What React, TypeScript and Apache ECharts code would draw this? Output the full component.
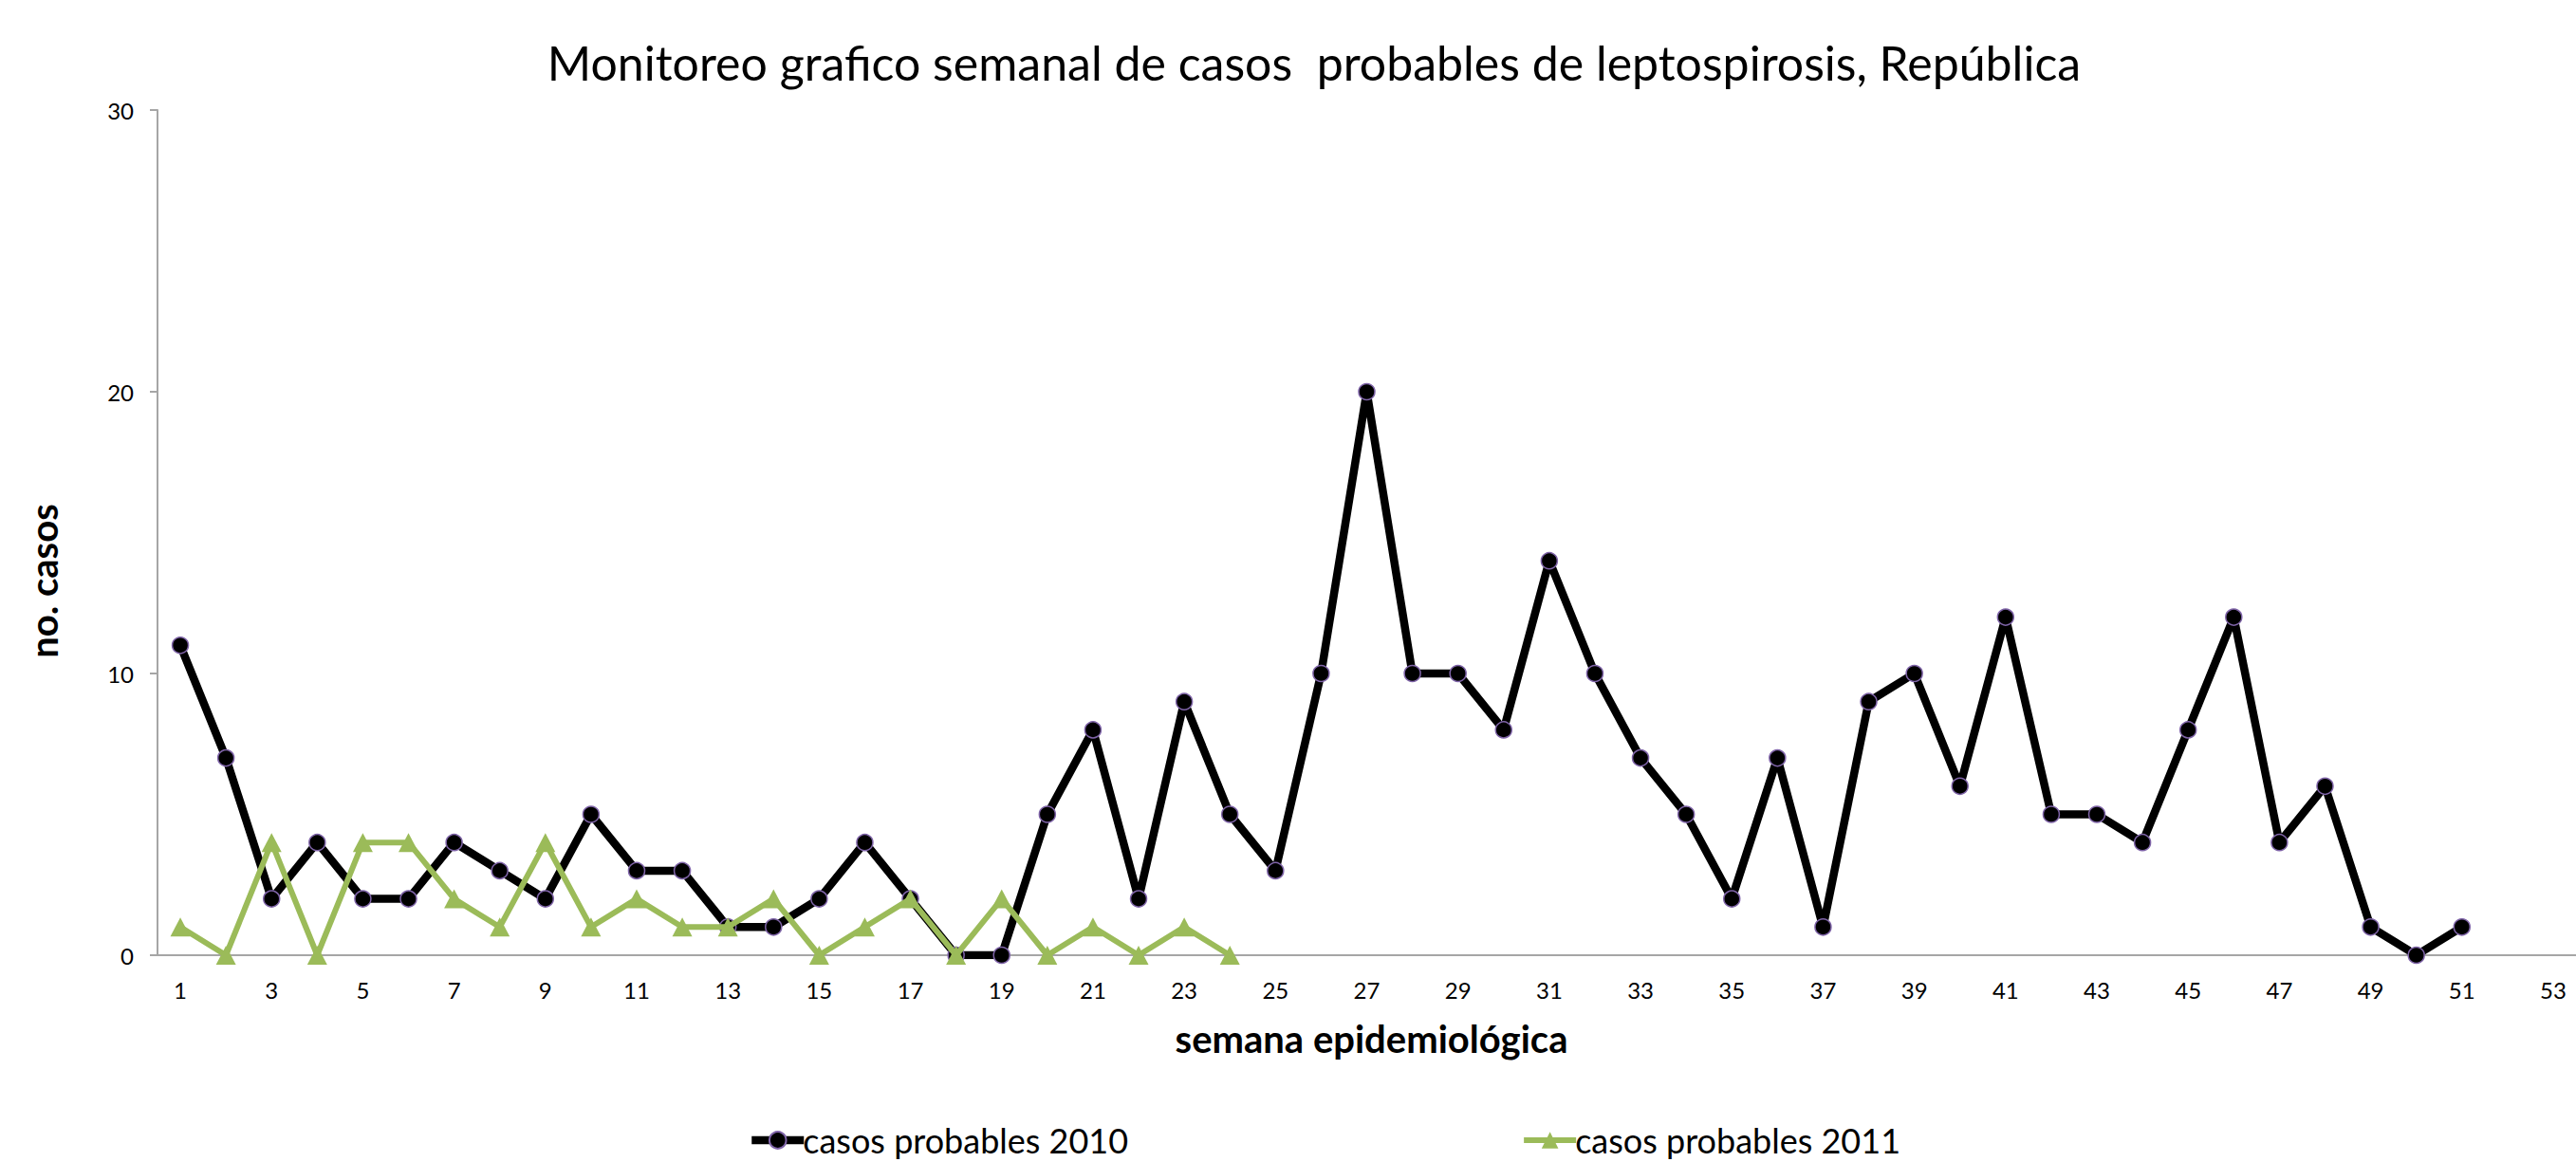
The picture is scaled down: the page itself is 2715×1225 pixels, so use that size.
import React, { useEffect, useRef } from "react";
import * as echarts from "echarts";

const weeks: string[] = Array.from({ length: 53 }, (_, i) => String(i + 1));
const cases2010: number[] = [
  11, 7, 2, 4, 2, 2, 4, 3, 2, 5, 3, 3, 1, 1, 2, 4, 2, 0, 0, 5, 8, 2, 9, 5, 3,
  10, 20, 10, 10, 8, 14, 10, 7, 5, 2, 7, 1, 9, 10, 6, 12, 5, 5, 4, 8, 12, 4, 6,
  1, 0, 1,
];
const cases2011: number[] = [
  1, 0, 4, 0, 4, 4, 2, 1, 4, 1, 2, 1, 1, 2, 0, 1, 2, 0, 2, 0, 1, 0, 1, 0,
];
const seriesNames: string[] = ["casos probables 2010", "casos probables 2011"];
const titleText = "Monitoreo grafico semanal de casos  probables de leptospirosis, República";
const yAxisName = "no. casos";
const xAxisName = "semana epidemiológica";

const FONT = "Lato, 'Open Sans', sans-serif";

export default function App() {
  const ref = useRef<HTMLDivElement>(null);
  useEffect(() => {
    document.body.style.margin = "0";
    if (!ref.current) return;
    const chart = echarts.init(ref.current, undefined, { renderer: "svg" });
    chart.setOption({
      animation: false,
      backgroundColor: "#ffffff",
      textStyle: { fontFamily: FONT },
      title: {
        text: titleText,
        left: 1380,
        textAlign: "center",
        top: 36,
        textStyle: { fontFamily: FONT, fontSize: 50, fontWeight: "normal", color: "#000" },
      },
      legend: {
        left: 788,
        top: 1184,
        padding: 0,
        itemGap: 414,
        itemWidth: 55,
        itemHeight: 22,
        lineStyle: { width: "inherit" },
        textStyle: { fontFamily: FONT, fontSize: 36, color: "#000", padding: [0, 0, 0, -6] },
        data: seriesNames,
      },
      grid: { left: 166, right: 0, top: 116, bottom: 218, containLabel: false },
      xAxis: {
        type: "category",
        data: weeks,
        boundaryGap: true,
        name: xAxisName,
        nameLocation: "middle",
        nameGap: 68,
        nameTextStyle: { fontFamily: FONT, fontSize: 40, fontWeight: "bold", color: "#000", padding: [0, 0, 0, 10] },
        axisLine: { lineStyle: { color: "#a6a6a6", width: 2 } },
        axisTick: { show: false },
        axisLabel: { interval: 1, fontFamily: FONT, fontSize: 24, color: "#000", margin: 24 },
        splitLine: { show: false },
      },
      yAxis: {
        type: "value",
        min: 0,
        max: 30,
        interval: 10,
        name: yAxisName,
        nameLocation: "middle",
        nameRotate: 90,
        nameGap: 100,
        nameTextStyle: { fontFamily: FONT, fontSize: 40, fontWeight: "bold", color: "#000", padding: [0, 102, 0, 0] },
        axisLine: { show: true, lineStyle: { color: "#a6a6a6", width: 2 } },
        axisTick: { show: true, length: 8, lineStyle: { color: "#a6a6a6", width: 2 } },
        axisLabel: { fontFamily: FONT, fontSize: 24, color: "#000", margin: 25 },
        splitLine: { show: false },
      },
      series: [
        {
          name: seriesNames[0],
          type: "line",
          data: cases2010,
          symbol: "circle",
          symbolSize: 17,
          lineStyle: { color: "#000000", width: 8.5 },
          itemStyle: { color: "#000000", borderColor: "#7f64a8", borderWidth: 1.5 },
          z: 2,
        },
        {
          name: seriesNames[1],
          type: "line",
          data: cases2011,
          symbol: "triangle",
          symbolSize: [21, 20],
          lineStyle: { color: "#9bbb59", width: 6 },
          itemStyle: { color: "#9bbb59" },
          z: 3,
        },
      ],
    });
    return () => chart.dispose();
  }, []);
  return <div ref={ref} style={{ width: 2715, height: 1225 }} />;
}
